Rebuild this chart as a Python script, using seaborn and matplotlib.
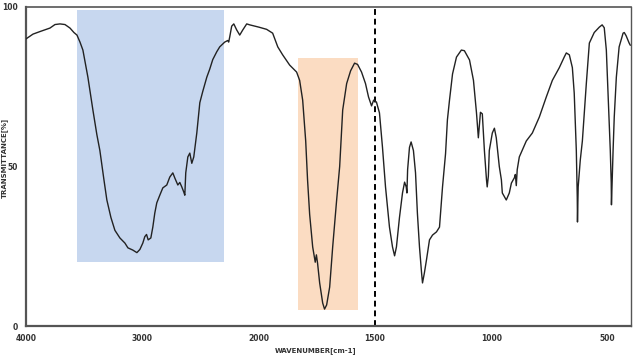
import numpy as np
import pandas as pd
import matplotlib
matplotlib.use("Agg")
import matplotlib.pyplot as plt
import seaborn as sns

# ---- data ----
wavenumber = [4000, 3940, 3880, 3794, 3751, 3708, 3665, 3622, 3588, 3562, 3536, 3511,
              3468, 3425, 3391, 3365, 3330, 3305, 3270, 3236, 3193, 3150, 3124, 3082,
              3047, 3021, 2996, 2979, 2964, 2950, 2927, 2910, 2893, 2876, 2850, 2824,
              2790, 2764, 2738, 2721, 2695, 2678, 2661, 2644, 2635, 2627, 2609, 2592,
              2575, 2558, 2532, 2506, 2481, 2446, 2421, 2395, 2360, 2335, 2292, 2266,
              2258, 2249, 2232, 2214, 2189, 2163, 2137, 2103, 2077, 2034, 2000,
              1966, 1940, 1918, 1897, 1867, 1837, 1824, 1811, 1798, 1790, 1781, 1768,
              1757, 1752, 1747, 1738, 1725, 1717, 1708, 1695, 1682, 1665, 1652, 1639,
              1622, 1605, 1588, 1575, 1558, 1541, 1528, 1515, 1506, 1494, 1481, 1468,
              1455, 1438, 1425, 1416, 1408, 1395, 1382, 1373, 1366, 1363, 1360, 1352,
              1345, 1335, 1326, 1318, 1309, 1300, 1296, 1288, 1279, 1266, 1253, 1236,
              1223, 1215, 1210, 1197, 1189, 1180, 1167, 1150, 1129, 1116, 1094, 1077,
              1064, 1056, 1047, 1039, 1030, 1021, 1018, 1013, 1009, 996, 987, 979,
              966, 957, 953, 936, 923, 914, 901, 897, 893, 889, 880, 850, 824, 794,
              764, 738, 708, 687, 678, 665, 652, 644, 635, 631, 630, 627, 618, 609,
              592, 579, 558, 536, 524, 515, 506, 498, 489, 485, 484, 481, 477, 472,
              463, 451, 434, 429, 421, 408, 403]
transmittance = [90, 91.5, 92.3, 93.4, 94.5, 94.7, 94.5, 93.4, 92, 91.2, 89, 86.5,
                 78, 67.7, 60, 55, 45.8, 39.5, 34, 30, 27.6, 26, 24.5, 23.8,
                 23, 24, 26, 28, 28.7, 27, 27.6, 31, 35.4, 38.6, 41, 43.3,
                 44.2, 46.7, 48, 46.4, 44.2, 45, 43.6, 42, 41, 48, 53, 54.2,
                 51, 53, 60.5, 70, 73.5, 78, 80.5, 83.5, 86, 87.5, 89, 89.5,
                 89, 90.6, 94, 94.7, 92.8, 91.2, 92.8, 94.7, 94.4, 94, 93.7,
                 93, 91.8, 87.5, 85, 81.8, 79.6, 77, 70.8, 58, 45.8, 35, 24.8,
                 20, 22.3, 19.7, 13.5, 7.2, 5.3, 6.6, 12.2, 24.8, 39.5, 50, 67.7,
                 76, 80, 82.4, 82, 79.6, 76, 71.8, 69, 70.8, 70.2, 66.8, 56,
                 43.6, 31, 24.8, 22, 24.8, 34, 41.7, 45.1, 43.6, 41.7, 49, 56,
                 57.7, 55, 48, 35.4, 24.8, 16.6, 13.5, 16.6, 20.7, 27, 28.5, 29.5,
                 31, 38.6, 43.6, 54, 64.6, 70.8, 79, 84.3, 86.5, 86.3, 83.4, 77,
                 66.8, 59, 67, 66.5, 55, 45.8, 43.6, 47, 55, 60.5, 62, 59,
                 50, 45.8, 41.7, 39.5, 41.7, 44.8, 46.5, 47.5, 44, 49, 53, 58, 60.5, 65.5,
                 71.8, 77, 81, 84.3, 85.6, 85, 81, 73, 55, 40.5, 32.6, 43.6, 52, 58,
                 76, 88.7, 92, 93.7, 94.4, 93.5, 86.5, 71.8, 55, 45, 38, 45.8, 55, 65.5,
                 78, 87.5, 91.8, 92, 91, 88.7, 88]

blue_band = (3560, 2300, 20, 99)      # wn_start, wn_end, T_low, T_high
orange_band = (1830, 1575, 5, 84)
marker_wn = 1500

x_major = [4000, 3000, 2000, 1500, 1000, 500]
x_major_labels = ["4000", "3000", "2000", "1500", "1000", "500"]
y_major = [0, 50, 100]
y_major_labels = ["0", "50", "100"]

df = pd.DataFrame({"wn": wavenumber, "T": transmittance})

sns.set_style("white")
plt.rcParams["font.family"] = ["DejaVu Sans"]

fig = plt.figure(figsize=(6.4, 3.6), dpi=100)
ax = fig.add_axes([26 / 640, 34 / 360, 605 / 640, 319 / 360])


# IR-style axis: scale below 2000 cm-1 is doubled
def fwd(w):
    w = np.asarray(w, dtype=float)
    return np.where(w >= 2000, w, 2 * w - 2000)


def inv(u):
    u = np.asarray(u, dtype=float)
    return np.where(u >= 2000, u, (u + 2000) / 2)


ax.set_xscale("function", functions=(fwd, inv))
ax.set_xlim(4000, 400)
ax.set_ylim(0, 100)

# highlighted regions
for (w0, w1, t0, t1), col in [(blue_band, "#c7d7ef"), (orange_band, "#fbdcc2")]:
    ax.fill_between([w0, w1], [t0, t0], [t1, t1], color=col, lw=0, zorder=1)

ax.axvline(marker_wn, color="black", lw=1.4, ls=(0, (3, 2)), zorder=2)

sns.lineplot(data=df, x="wn", y="T", sort=False, estimator=None,
             color="#222222", lw=1.0, ax=ax, zorder=3)

ax.set_xticks(x_major)
ax.set_xticklabels(x_major_labels)
minor = list(range(3900, 2000, -100)) + list(range(1900, 300, -100))
minor = [m for m in minor if m not in x_major]
ax.set_xticks(minor, minor=True)
ax.set_yticks(y_major)
ax.set_yticklabels(y_major_labels)
ax.set_yticks(list(range(10, 100, 10)), minor=True)

ax.tick_params(axis="both", which="major", direction="out", length=4, width=1,
               color="#555555", labelsize=5.5, pad=2)
ax.tick_params(axis="both", which="minor", direction="out", length=2.5, width=1,
               color="#555555")
for lab in ax.get_xticklabels() + ax.get_yticklabels():
    lab.set_fontweight("bold")
    lab.set_color("#333333")

for side in ["left", "bottom", "top", "right"]:
    ax.spines[side].set_visible(True)
    ax.spines[side].set_color("#555555")
ax.spines["left"].set_linewidth(1.6)
ax.spines["bottom"].set_linewidth(1.6)
ax.spines["top"].set_linewidth(1.2)
ax.spines["right"].set_linewidth(1.0)

ax.set_xlabel("WAVENUMBER[cm-1]", fontsize=5, fontweight="bold", color="#333333")
ax.xaxis.set_label_coords((316 - 26) / 605, -0.065)
ax.set_ylabel("TRANSMITTANCE[%]", fontsize=5, fontweight="bold", color="#333333")
ax.yaxis.set_label_coords(-0.0305, (326 - 158) / 319)

fig.savefig("out.png", dpi=100)
